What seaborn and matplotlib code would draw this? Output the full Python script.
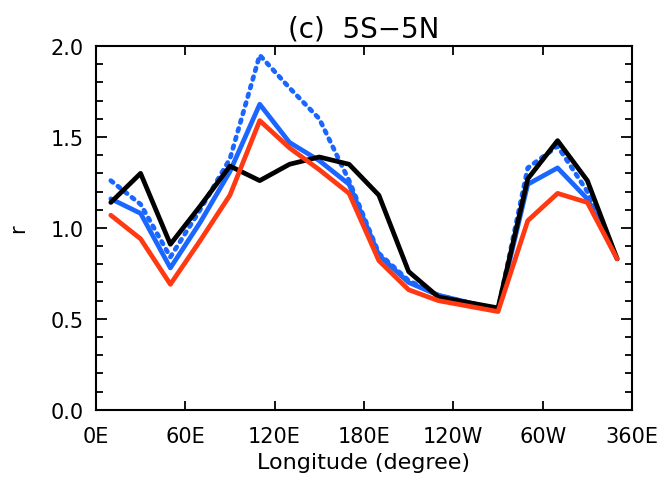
import matplotlib
matplotlib.use("Agg")
import matplotlib.pyplot as plt
import seaborn as sns
import numpy as np
import pandas as pd
from matplotlib.ticker import MultipleLocator

# Data
longitude = [10, 30, 50, 70, 90, 110, 130, 150, 170, 190, 210, 230, 250, 270, 290, 310, 330, 350]
black_vals = [1.14, 1.30, 0.91, 1.12, 1.34, 1.26, 1.35, 1.39, 1.35, 1.18, 0.76, 0.62, 0.59, 0.56, 1.27, 1.48, 1.26, 0.83]
blue_vals = [1.16, 1.08, 0.78, 1.03, 1.31, 1.68, 1.47, 1.37, 1.24, 0.85, 0.70, 0.63, 0.59, 0.55, 1.24, 1.33, 1.16, 0.83]
blue_dot_vals = [1.26, 1.13, 0.84, 1.10, 1.38, 1.95, 1.77, 1.60, 1.26, 0.86, 0.71, 0.63, 0.59, 0.55, 1.33, 1.45, 1.20, 0.83]
red_vals = [1.07, 0.94, 0.69, 0.93, 1.18, 1.59, 1.44, 1.32, 1.19, 0.82, 0.66, 0.60, 0.57, 0.54, 1.04, 1.19, 1.14, 0.83]
xtick_pos = [0, 60, 120, 180, 240, 300, 360]
xtick_labels = ["0E", "60E", "120E", "180E", "120W", "60W", "360E"]
ytick_pos = [0.0, 0.5, 1.0, 1.5, 2.0]

sns.set_theme(style="ticks")
plt.rcParams['font.family'] = ['DejaVu Sans']
plt.rcParams['text.color'] = 'black'
plt.rcParams['axes.labelcolor'] = 'black'

fig = plt.figure(figsize=(6.66, 4.85), dpi=100)
ax = fig.add_axes([0.144, 0.153, 0.805, 0.750])

blue = "#1a66ff"
red = "#ff3a12"
sns.lineplot(x=longitude, y=blue_dot_vals, ax=ax, color=blue, lw=3.4,
             linestyle=(0, (0.6, 1.3)), dash_capstyle='round')
sns.lineplot(x=longitude, y=blue_vals, ax=ax, color=blue, lw=3.4)
sns.lineplot(x=longitude, y=black_vals, ax=ax, color="black", lw=3.4)
sns.lineplot(x=longitude, y=red_vals, ax=ax, color=red, lw=3.4)

ax.set_xlim(0, 360)
ax.set_ylim(0, 2.0)
ax.set_xticks(xtick_pos)
ax.set_xticklabels(xtick_labels)
ax.set_yticks(ytick_pos)
ax.set_yticklabels([f"{v:.1f}" for v in ytick_pos])
ax.yaxis.set_minor_locator(MultipleLocator(0.1))
ax.tick_params(axis='both', which='both', direction='in', top=True, right=True,
               labelsize=15, colors='black', width=1.3)
ax.tick_params(axis='y', which='major', length=8, pad=9)
ax.tick_params(axis='y', which='minor', length=5)
ax.tick_params(axis='x', which='major', length=6.5, pad=12)
ax.tick_params(axis='x', which='minor', length=0)
for s in ax.spines.values():
    s.set_linewidth(1.5)
    s.set_color('black')

ax.set_title("(c)  5S\u22125N", fontsize=20, pad=7)
ax.set_xlabel("Longitude (degree)", fontsize=16, labelpad=4)
ax.set_ylabel("r", fontsize=15, labelpad=16)

fig.savefig("out.png", dpi=100)
